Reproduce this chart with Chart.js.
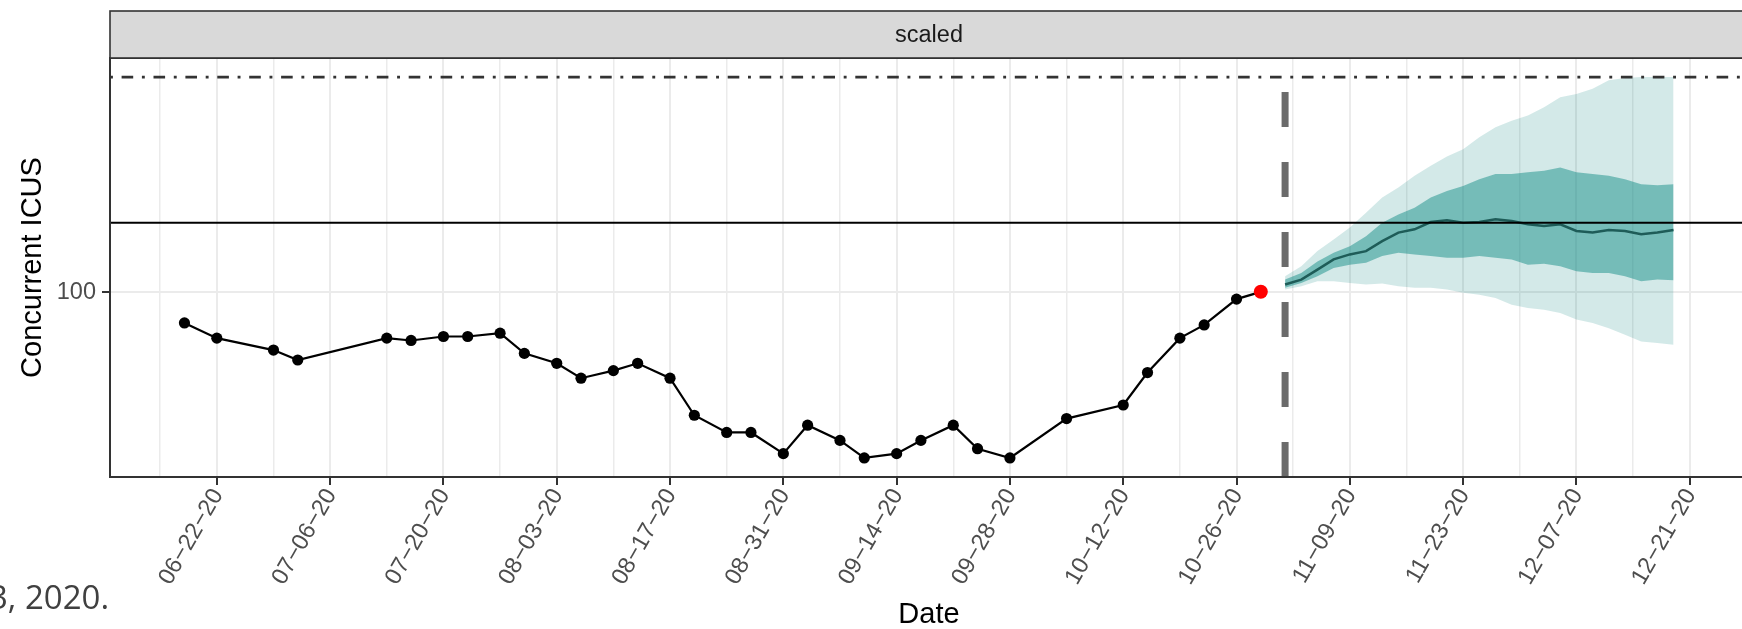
<!DOCTYPE html>
<html>
<head>
<meta charset="utf-8">
<script src="https://cdn.jsdelivr.net/npm/chart.js@4.4.1/dist/chart.umd.min.js"></script>
<style>
  html, body { margin: 0; padding: 0; background: #fff; overflow: hidden; width: 1742px; height: 629px; }
  #wrap { position: relative; width: 1748px; height: 629px; }
  #c { position: absolute; left: 0; top: 0; }
  #caption { position: absolute; left: -11px; top: 580px; font-family: "Open Sans", "Noto Sans", sans-serif;
             font-size: 33px; line-height: 33px; color: #404040; white-space: nowrap; }
</style>
</head>
<body>
<div id="wrap">
  <canvas id="c" width="1748" height="629"></canvas>
  <div id="caption">3, 2020.</div>
</div>
<script>
// ---------------- data ----------------
const panelTitle = "scaled";
const yTitle = "Concurrent ICUS";
const xTitle = "Date";
const yTickValues = [100];
const xTickLabels = ["06-22-20", "07-06-20", "07-20-20", "08-03-20", "08-17-20", "08-31-20", "09-14-20",
                     "09-28-20", "10-12-20", "10-26-20", "11-09-20", "11-23-20", "12-07-20", "12-21-20"];

const obsDates = ["2020-06-18", "2020-06-22", "2020-06-29", "2020-07-02", "2020-07-13", "2020-07-16",
                  "2020-07-20", "2020-07-23", "2020-07-27", "2020-07-30", "2020-08-03", "2020-08-06",
                  "2020-08-10", "2020-08-13", "2020-08-17", "2020-08-20", "2020-08-24", "2020-08-27",
                  "2020-08-31", "2020-09-03", "2020-09-07", "2020-09-10", "2020-09-14", "2020-09-17",
                  "2020-09-21", "2020-09-24", "2020-09-28", "2020-10-05", "2020-10-12", "2020-10-15",
                  "2020-10-19", "2020-10-22", "2020-10-26", "2020-10-29"];
const obsValues = [90.7, 86.1, 82.5, 79.5, 86.1, 85.4, 86.6, 86.6, 87.6, 81.5, 78.5, 74.0,
                   76.3, 78.5, 74.0, 62.8, 57.6, 57.6, 51.2, 59.8, 55.2, 49.9, 51.2, 55.2,
                   59.8, 52.7, 49.9, 61.8, 65.9, 75.7, 86.1, 90.1, 97.9, 100.1];

const fcDates = ["2020-11-01", "2020-11-03", "2020-11-05", "2020-11-07", "2020-11-09", "2020-11-11",
                 "2020-11-13", "2020-11-15", "2020-11-17", "2020-11-19", "2020-11-21", "2020-11-23",
                 "2020-11-25", "2020-11-27", "2020-11-29", "2020-12-01", "2020-12-03", "2020-12-05",
                 "2020-12-07", "2020-12-09", "2020-12-11", "2020-12-13", "2020-12-15", "2020-12-17",
                 "2020-12-19"];
const fcMedian = [102.3, 103.8, 106.8, 109.9, 111.4, 112.4, 115.4, 118.0, 119.0, 121.2, 121.7, 121.0,
                  121.2, 122.0, 121.5, 120.5, 120.0, 120.5, 118.5, 118.0, 118.8, 118.5, 117.5, 118.0, 118.8];
const fcInnerUpper = [103.8, 105.8, 109.3, 111.9, 113.9, 116.9, 121.0, 123.5, 125.5, 128.6, 130.6, 132.1,
                      134.1, 135.7, 135.7, 136.2, 136.7, 137.7, 136.2, 135.7, 135.2, 134.1, 132.6, 132.3, 132.6];
const fcInnerLower = [101.3, 102.8, 104.8, 107.3, 108.3, 108.9, 110.9, 111.9, 111.4, 110.9, 110.4, 110.4,
                      110.9, 110.4, 109.9, 108.3, 108.6, 107.8, 106.3, 105.8, 105.8, 104.8, 103.3, 103.8, 103.6];
const fcOuterUpper = [104.8, 107.8, 112.4, 115.9, 119.5, 124.0, 128.6, 131.6, 135.2, 138.2, 141.0, 143.2,
                      146.8, 149.8, 151.8, 153.4, 155.9, 158.9, 159.9, 161.5, 164.0, 164.7, 165.0, 165.0, 165.0];
const fcOuterLower = [100.8, 101.8, 103.3, 103.3, 102.8, 102.3, 102.6, 101.8, 101.3, 101.3, 100.8, 99.8,
                      99.2, 98.2, 96.2, 95.2, 94.7, 93.7, 91.7, 90.7, 89.1, 87.1, 85.1, 84.6, 84.1];

const capacityLine = 165;
const thresholdLine = 121;
const forecastStart = "2020-11-01";
const captionText = "3, 2020.";

// ---------------- helpers ----------------
const DAY = 86400000;
function dayOf(iso) { const [y, m, d] = iso.split("-").map(Number); return Date.UTC(y, m - 1, d) / DAY; }
function dayOfTick(lbl) { const [m, d, y] = lbl.split("-").map(Number); return Date.UTC(2000 + y, m - 1, d) / DAY; }
const pts = (dates, vals) => dates.map((d, i) => ({ x: dayOf(d), y: vals[i] }));

const majorDays = xTickLabels.map(dayOfTick);
const labelByDay = {};
xTickLabels.forEach((l, i) => { labelByDay[majorDays[i]] = l; });

// ggplot-like 5% expansion
const allX = obsDates.map(dayOf).concat(fcDates.map(dayOf));
const xLo = Math.min(...allX), xHi = Math.max(...allX);
const xMin = xLo - 0.05 * (xHi - xLo), xMax = xHi + 0.05 * (xHi - xLo);
const allY = obsValues.concat(fcOuterUpper, fcOuterLower, [capacityLine, thresholdLine]);
const yLo = Math.min(...allY), yHi = Math.max(...allY);
const yMin = yLo - 0.05 * (yHi - yLo), yMax = yHi + 0.05 * (yHi - yLo);

// minor breaks: midpoints between majors, plus one outside each end if inside range
const step = majorDays[1] - majorDays[0];
const allTickDays = [];
for (let d = majorDays[0] - step / 2; d <= xMax; d += step / 2) { if (d >= xMin) allTickDays.push(d); }
const isMajor = v => labelByDay[v] !== undefined;

document.getElementById("caption").textContent = captionText;

Chart.defaults.font.family = "'Liberation Sans', Arial, sans-serif";

const panelPlugin = {
  id: "panelDecor",
  beforeDraw(chart) {
    const { ctx, width, height } = chart;
    ctx.save(); ctx.fillStyle = "#fff"; ctx.fillRect(0, 0, width, height); ctx.restore();
  },
  afterDatasetsDraw(chart) {
    const { ctx, chartArea: a, scales: { x, y } } = chart;
    ctx.save();
    ctx.beginPath(); ctx.rect(a.left, a.top, a.right - a.left, a.bottom - a.top); ctx.clip();
    ctx.lineCap = "butt";
    // threshold (solid)
    let py = y.getPixelForValue(thresholdLine);
    ctx.strokeStyle = "#000"; ctx.lineWidth = 2; ctx.setLineDash([]);
    ctx.beginPath(); ctx.moveTo(a.left, py); ctx.lineTo(a.right, py); ctx.stroke();
    // capacity (dot-dash)
    py = y.getPixelForValue(capacityLine);
    ctx.strokeStyle = "#333"; ctx.lineWidth = 2.8; ctx.setLineDash([2.9, 8.7, 11.6, 8.7]);
    ctx.beginPath(); ctx.moveTo(a.left, py); ctx.lineTo(a.right, py); ctx.stroke();
    // forecast start (long dash)
    const px = x.getPixelForValue(dayOf(forecastStart));
    ctx.strokeStyle = "#6b6b6b"; ctx.lineWidth = 7; ctx.setLineDash([35, 35]);
    ctx.beginPath(); ctx.moveTo(px, a.bottom); ctx.lineTo(px, a.top); ctx.stroke();
    ctx.restore();
  },
  afterDraw(chart) {
    const { ctx, chartArea: a } = chart;
    ctx.save();
    // panel border
    ctx.strokeStyle = "#333"; ctx.lineWidth = 2; ctx.setLineDash([]);
    ctx.strokeRect(a.left, a.top, a.right - a.left, a.bottom - a.top);
    // facet strip
    const sTop = 11;
    ctx.fillStyle = "#d9d9d9";
    ctx.fillRect(a.left, sTop, a.right - a.left, a.top - sTop);
    ctx.strokeStyle = "#333"; ctx.lineWidth = 1.6;
    ctx.strokeRect(a.left, sTop, a.right - a.left, a.top - sTop);
    ctx.fillStyle = "#1a1a1a"; ctx.font = "23.5px 'Liberation Sans', Arial, sans-serif";
    ctx.textAlign = "center"; ctx.textBaseline = "middle";
    ctx.fillText(panelTitle, (a.left + a.right) / 2, (sTop + a.top) / 2 + 1);
    ctx.restore();
  }
};

const band = "20,140,134";
new Chart(document.getElementById("c"), {
  type: "line",
  data: {
    datasets: [
      { data: pts(fcDates, fcOuterUpper), fill: "+1", backgroundColor: `rgba(${band},0.19)`,
        borderWidth: 0, pointRadius: 0, order: 5 },
      { data: pts(fcDates, fcOuterLower), fill: false, borderWidth: 0, pointRadius: 0, order: 5 },
      { data: pts(fcDates, fcInnerUpper), fill: "+1", backgroundColor: `rgba(${band},0.49)`,
        borderWidth: 0, pointRadius: 0, order: 3 },
      { data: pts(fcDates, fcInnerLower), fill: false, borderWidth: 0, pointRadius: 0, order: 3 },
      { data: pts(fcDates, fcMedian), fill: false, borderColor: "#1e5c58", borderWidth: 2.5,
        pointRadius: 0, order: 1 },
      { data: pts(obsDates, obsValues), fill: false, borderColor: "#000", borderWidth: 2.2,
        pointRadius: obsValues.map((v, i) => i === obsValues.length - 1 ? 7 : 5.6),
        pointBackgroundColor: obsValues.map((v, i) => i === obsValues.length - 1 ? "#ff0000" : "#000"),
        pointBorderWidth: 0, order: 0 }
    ]
  },
  options: {
    responsive: false,
    devicePixelRatio: 1,
    animation: false,
    layout: { autoPadding: false, padding: { left: 0, right: 0, top: 58, bottom: 0 } },
    plugins: { legend: { display: false }, tooltip: { enabled: false } },
    elements: { line: { tension: 0 } },
    scales: {
      x: {
        type: "linear", min: xMin, max: xMax,
        afterBuildTicks: s => { s.ticks = allTickDays.map(v => ({ value: v })); },
        afterFit: s => { s.height = 152; s.paddingLeft = 0; s.paddingRight = 0; },
        border: { display: false },
        grid: {
          color: "#ebebeb",
          lineWidth: c => (c.tick && isMajor(c.tick.value)) ? 2 : 1.5,
          tickLength: 8,
          tickColor: c => (c.tick && isMajor(c.tick.value)) ? "#333" : "rgba(0,0,0,0)",
          tickWidth: 2
        },
        ticks: {
          autoSkip: false, minRotation: 60, maxRotation: 60, padding: -1, labelOffset: 1,
          color: "#4d4d4d", font: { size: 23.5 },
          callback: v => isMajor(v) ? labelByDay[v].replace(/-/g, "\u2212") : ""
        },
        title: { display: true, text: xTitle, color: "#000", font: { size: 29, lineHeight: 1 },
                 padding: { top: 0, bottom: 0 } }
      },
      y: {
        type: "linear", min: yMin, max: yMax,
        afterBuildTicks: s => { s.ticks = yTickValues.map(v => ({ value: v })); },
        afterFit: s => { s.width = 110; s.paddingTop = 0; s.paddingBottom = 0; },
        border: { display: false },
        grid: { color: "#ebebeb", lineWidth: 2, tickLength: 8, tickColor: "#333", tickWidth: 2 },
        ticks: { padding: 6, color: "#4d4d4d", font: { size: 23.5 }, callback: v => String(v) },
        title: { display: true, text: yTitle, color: "#000", font: { size: 29, lineHeight: 1 },
                 padding: { top: 18.5, bottom: 0 } }
      }
    }
  },
  plugins: [panelPlugin]
});
</script>
</body>
</html>
